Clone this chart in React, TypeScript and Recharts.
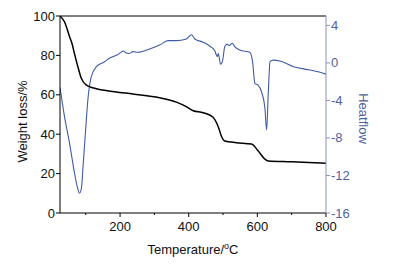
import { LineChart, Line, XAxis, YAxis, ReferenceLine, Label } from "recharts";

const weightTemps = [25, 38, 53, 60, 67, 77, 87, 101, 126, 184, 237, 315, 364, 393, 413, 442, 471, 486, 496, 505, 539, 583, 602, 622, 632, 700, 800];
const weightLoss = [100, 97.1, 89.5, 86, 81, 74.3, 68.4, 65, 63.3, 61.6, 60.4, 58.5, 56.3, 54, 51.9, 50.9, 48.6, 43.8, 38.7, 36.5, 35.7, 35, 31.6, 27.3, 26.4, 26, 25.2];

const heatTemps = [25, 38, 53, 67, 76, 82, 88, 92, 99, 106, 116, 131, 155, 169, 194, 210, 218, 226, 238, 252, 286, 315, 340, 364, 393, 408, 418, 442, 461, 476, 483, 486, 493, 499, 505, 512, 518, 527, 534, 549, 578, 586, 593, 602, 612, 622, 627, 632, 637, 646, 666, 705, 753, 792, 800];
const heatflow = [-2.6, -5.7, -8.6, -11.7, -13.3, -13.9, -13.2, -11.1, -7.5, -4, -1.5, -0.4, 0.13, 0.5, 0.9, 1.27, 1.05, 1.0, 1.2, 1.13, 1.48, 1.9, 2.37, 2.37, 2.55, 3.0, 2.55, 2.2, 1.8, 1.3, 0.66, 1.0, -0.15, 0.3, 1.73, 2.0, 1.83, 2.1, 1.73, 1.37, 1.13, 0.13, -2.2, -2.36, -3.07, -4.8, -7.15, -3.07, 0.13, 0.3, 0.2, -0.4, -0.76, -1.1, -1.2];

const xTicks = [100, 200, 300, 400, 500, 600, 700, 800];
const weightTicks = [0, 10, 20, 30, 40, 50, 60, 70, 80, 90, 100];
const heatTicks = [-16, -14, -12, -10, -8, -6, -4, -2, 0, 2, 4];

const weightData = weightTemps.map((t, i) => ({ t, w: weightLoss[i] }));
const heatData = heatTemps.map((t, i) => ({ t, h: heatflow[i] }));

const FONT = '"Liberation Sans", Arial, sans-serif';
const BLUE = "#3f5ba6";
const BLUE_AXIS = "#8494b6";
const BLUE_TEXT = "#4f5f9e";

function BottomTick({ x, y, payload }: any) {
  const major = payload.value % 200 === 0;
  return (
    <g>
      <line x1={x} y1={y} x2={x} y2={y + (major ? 4 : 2)} stroke="#000" />
      {major && (
        <text x={x} y={y + 18} textAnchor="middle" fontSize={13} fill="#111" fontFamily={FONT}>
          {payload.value}
        </text>
      )}
    </g>
  );
}

function LeftTick({ x, y, payload }: any) {
  const major = payload.value % 20 === 0;
  return (
    <g>
      <line x1={x} y1={y} x2={x - (major ? 4 : 2)} y2={y} stroke="#000" />
      {major && (
        <text x={x - 5} y={y + 4.5} textAnchor="end" fontSize={13} fill="#111" fontFamily={FONT}>
          {payload.value}
        </text>
      )}
    </g>
  );
}

function RightTick({ x, y, payload }: any) {
  const major = payload.value % 4 === 0;
  return (
    <g>
      <line x1={x} y1={y} x2={x + (major ? 4 : 2)} y2={y} stroke={BLUE_AXIS} />
      {major && (
        <text x={x + 5} y={y + 4.5} textAnchor="start" fontSize={13} fill={BLUE_TEXT} fontFamily={FONT}>
          {payload.value}
        </text>
      )}
    </g>
  );
}

export default function App() {
  return (
    <div style={{ position: "absolute", left: 0, top: 0 }}>
      <LineChart width={406} height={267} margin={{ top: 16, right: 0, bottom: 0, left: 0 }}>
        <XAxis
          type="number"
          dataKey="t"
          domain={[25, 800]}
          ticks={xTicks}
          allowDataOverflow
          height={54}
          tickSize={0}
          tickMargin={0}
          tickLine={false}
          tick={<BottomTick />}
          axisLine={{ stroke: "#000" }}
        >
          <Label
            content={({ viewBox }: any) => (
              <text x={viewBox.x + viewBox.width / 2} y={viewBox.y + 41} textAnchor="middle" fontSize={13} fill="#111" fontFamily={FONT}>
                Temperature/<tspan dy={-5} fontSize={9}>o</tspan><tspan dy={5}>C</tspan>
              </text>
            )}
          />
        </XAxis>
        <YAxis
          yAxisId="w"
          orientation="left"
          domain={[0, 100]}
          ticks={weightTicks}
          width={60}
          tickSize={0}
          tickMargin={0}
          tickLine={false}
          tick={<LeftTick />}
          axisLine={{ stroke: "#000" }}
        >
          <Label
            content={({ viewBox }: any) => {
              const cx = 22;
              const cy = viewBox.y + viewBox.height / 2 + 7;
              return (
                <text x={cx} y={cy} transform={`rotate(-90 ${cx} ${cy})`} textAnchor="middle" dominantBaseline="central" fontSize={13} fill="#111" fontFamily={FONT}>
                  Weight loss/%
                </text>
              );
            }}
          />
        </YAxis>
        <YAxis
          yAxisId="h"
          orientation="right"
          domain={[-16, 5]}
          ticks={heatTicks}
          allowDataOverflow
          width={80}
          tickSize={0}
          tickMargin={0}
          tickLine={false}
          tick={<RightTick />}
          axisLine={{ stroke: BLUE_AXIS }}
        >
          <Label
            content={({ viewBox }: any) => {
              const cx = viewBox.x + 37;
              const cy = viewBox.y + viewBox.height / 2 + 4;
              return (
                <text x={cx} y={cy} transform={`rotate(90 ${cx} ${cy})`} textAnchor="middle" dominantBaseline="central" fontSize={13} fill={BLUE_TEXT} fontFamily={FONT}>
                  Heatflow
                </text>
              );
            }}
          />
        </YAxis>
        <ReferenceLine yAxisId="w" y={100} stroke="#000" strokeWidth={1} />
        <Line
          yAxisId="h"
          data={heatData}
          dataKey="h"
          type="monotone"
          stroke={BLUE}
          strokeWidth={1.1}
          dot={false}
          isAnimationActive={false}
        />
        <Line
          yAxisId="w"
          data={weightData}
          dataKey="w"
          type="monotone"
          stroke="#000"
          strokeWidth={1.5}
          dot={false}
          isAnimationActive={false}
        />
      </LineChart>
    </div>
  );
}
